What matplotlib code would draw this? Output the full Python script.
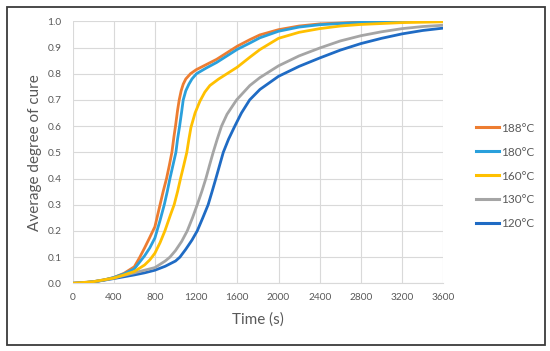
import matplotlib
matplotlib.use("Agg")
import matplotlib.pyplot as plt
from matplotlib.patches import Rectangle
from matplotlib.lines import Line2D
from matplotlib.ticker import FormatStrFormatter

plt.rcParams['font.family'] = ['Lato', 'DejaVu Sans']

# ---- data ----
labels = ["188°C", "180°C", "160°C", "130°C", "120°C"]
colors = ["#ED7D31", "#2AA0DC", "#FFC000", "#A5A5A5", "#1F6BC4"]

t_188 = [0, 100, 200, 300, 400, 500, 600, 650, 700, 750, 800, 850, 880, 913, 940, 965, 985, 1000, 1020, 1036, 1055, 1075, 1100, 1146, 1200, 1300, 1400, 1500, 1600, 1722, 1819, 2000, 2200, 2400, 2800, 3200, 3600]
v_188 = [0, 0.002, 0.006, 0.012, 0.022, 0.038, 0.063, 0.097, 0.135, 0.175, 0.216, 0.30, 0.35, 0.40, 0.45, 0.50, 0.56, 0.60, 0.66, 0.70, 0.735, 0.76, 0.78, 0.80, 0.815, 0.835, 0.855, 0.88, 0.905, 0.93, 0.948, 0.968, 0.982, 0.99, 0.997, 0.999, 1.0]

t_180 = [0, 100, 200, 300, 400, 500, 600, 700, 750, 800, 850, 891, 920, 946, 975, 1004, 1020, 1040, 1058, 1075, 1100, 1130, 1160, 1204, 1300, 1400, 1500, 1600, 1722, 1819, 2000, 2200, 2400, 2800, 3200, 3600]
v_180 = [0, 0.002, 0.006, 0.012, 0.022, 0.036, 0.055, 0.105, 0.135, 0.173, 0.24, 0.30, 0.35, 0.40, 0.45, 0.50, 0.55, 0.60, 0.65, 0.70, 0.735, 0.76, 0.78, 0.80, 0.822, 0.843, 0.868, 0.893, 0.917, 0.937, 0.962, 0.978, 0.987, 0.996, 0.999, 1.0]

t_160 = [0, 200, 400, 500, 600, 700, 752, 800, 850, 897, 950, 987, 1020, 1049, 1080, 1110, 1130, 1150, 1190, 1237, 1285, 1334, 1420, 1500, 1600, 1722, 1819, 2000, 2200, 2400, 2600, 2800, 3200, 3600]
v_160 = [0, 0.006, 0.02, 0.032, 0.045, 0.07, 0.09, 0.115, 0.155, 0.20, 0.26, 0.30, 0.35, 0.40, 0.45, 0.50, 0.55, 0.595, 0.65, 0.695, 0.73, 0.755, 0.78, 0.80, 0.825, 0.863, 0.892, 0.935, 0.958, 0.972, 0.982, 0.988, 0.995, 0.998]

t_130 = [0, 200, 400, 500, 600, 700, 800, 900, 946, 1000, 1060, 1114, 1165, 1211, 1255, 1295, 1330, 1366, 1405, 1447, 1500, 1593, 1722, 1819, 2000, 2200, 2400, 2600, 2800, 3000, 3200, 3400, 3600]
v_130 = [0, 0.006, 0.02, 0.03, 0.04, 0.05, 0.06, 0.085, 0.10, 0.125, 0.16, 0.20, 0.25, 0.30, 0.35, 0.40, 0.45, 0.50, 0.55, 0.60, 0.645, 0.70, 0.755, 0.785, 0.83, 0.868, 0.898, 0.925, 0.945, 0.96, 0.972, 0.98, 0.985]

t_120 = [0, 200, 400, 500, 600, 700, 800, 900, 1000, 1043, 1100, 1160, 1211, 1265, 1317, 1355, 1392, 1428, 1464, 1515, 1576, 1640, 1720, 1820, 2000, 2200, 2400, 2600, 2800, 3000, 3200, 3400, 3600]
v_120 = [0, 0.005, 0.018, 0.025, 0.032, 0.04, 0.05, 0.065, 0.085, 0.10, 0.13, 0.165, 0.20, 0.25, 0.30, 0.35, 0.40, 0.45, 0.50, 0.55, 0.60, 0.65, 0.70, 0.74, 0.79, 0.828, 0.86, 0.89, 0.915, 0.935, 0.952, 0.965, 0.974]

series_t = [t_188, t_180, t_160, t_130, t_120]
series_v = [v_188, v_180, v_160, v_130, v_120]

x_ticks = [0, 400, 800, 1200, 1600, 2000, 2400, 2800, 3200, 3600]
y_ticks = [0.0, 0.1, 0.2, 0.3, 0.4, 0.5, 0.6, 0.7, 0.8, 0.9, 1.0]

# ---- figure ----
fig = plt.figure(figsize=(5.5, 3.51), dpi=100)
fig.patch.set_facecolor("white")
fig.patches.append(Rectangle((7/550, 1-345/351), (545-7)/550, (345-7)/351,
                             transform=fig.transFigure, fill=False,
                             edgecolor="#3a3a3a", linewidth=1.3))

ax = fig.add_axes([72.5/550, 1-283.3/351, (443.3-72.5)/550, (283.3-21.3)/351])

draw_order = [4, 3, 0, 1, 2]
for i in draw_order:
    ax.plot(series_t[i], series_v[i], color=colors[i], linewidth=2.0,
            solid_capstyle='round', solid_joinstyle='round', zorder=3)

ax.set_xlim(0, 3600)
ax.set_ylim(0, 1.0)
ax.set_xticks(x_ticks)
ax.set_yticks(y_ticks)
ax.yaxis.set_major_formatter(FormatStrFormatter('%.1f'))
ax.grid(True, color="#D9D9D9", linewidth=0.8, zorder=0)
ax.set_axisbelow(True)
for s in ["top", "right", "left"]:
    ax.spines[s].set_visible(False)
ax.spines["bottom"].set_color("#D9D9D9")
ax.spines["bottom"].set_linewidth(0.8)
ax.tick_params(axis='both', length=0, labelsize=7.3, labelcolor="#595959")
ax.tick_params(axis='y', pad=8)
ax.tick_params(axis='x', pad=7)

ax.set_xlabel("Time (s)", fontsize=11, color="#595959")
ax.set_ylabel("Average degree of cure", fontsize=11, color="#595959")
ax.xaxis.set_label_coords(0.5, (283.3-320)/262)
ax.xaxis.label.set_va('center')
ax.yaxis.set_label_coords((35-72.5)/370.8, 0.5)
ax.yaxis.label.set_va('center')

handles = [Line2D([0], [0], color=c, linewidth=2.2) for c in colors]
fig.legend(handles, labels, loc='center left', bbox_to_anchor=(471/550, 1-176/351),
           frameon=False, fontsize=8.5, handlelength=2.0, handletextpad=0.15,
           labelspacing=1.1, labelcolor="#595959", borderaxespad=0)

fig.savefig("out.png", dpi=100)
